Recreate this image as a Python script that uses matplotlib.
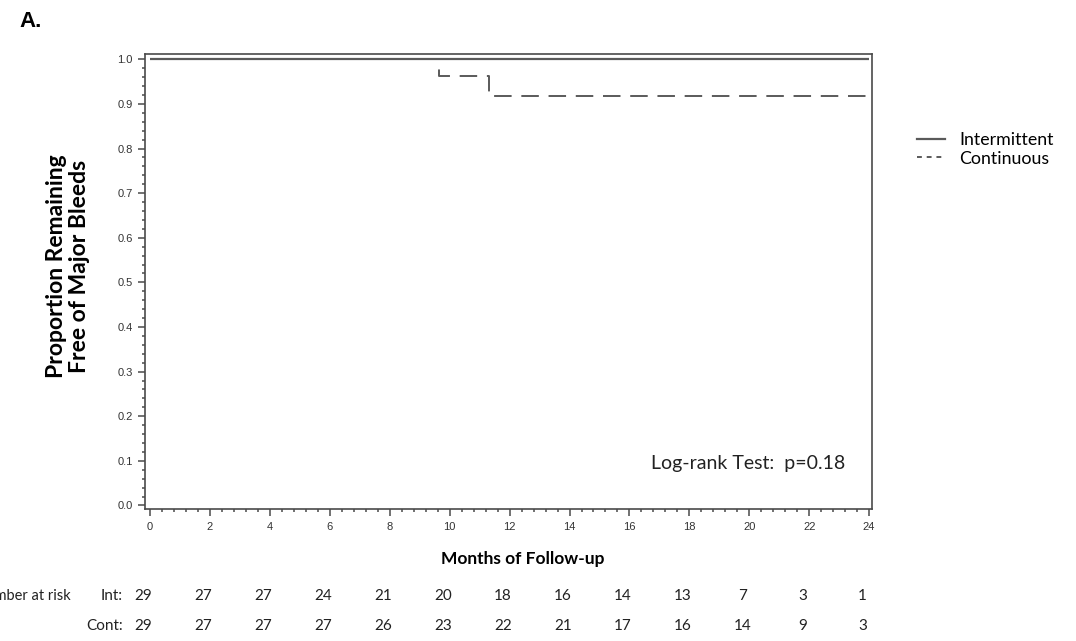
import numpy as np
import matplotlib.pyplot as plt
import matplotlib.transforms as mtransforms
from matplotlib.ticker import MultipleLocator, AutoMinorLocator
from matplotlib.lines import Line2D

# ---------- data ----------
months = np.arange(0, 25, 2)

# Kaplan-Meier step curves (time, survival)
int_times = [0, 24]
int_surv = [1.0, 1.0]
cont_times = [0, 9.65, 11.3, 24]
cont_surv = [1.0, 0.962, 0.918, 0.918]

risk_int = [29, 27, 27, 24, 21, 20, 18, 16, 14, 13, 7, 3, 1]
risk_cont = [29, 27, 27, 27, 26, 23, 22, 21, 17, 16, 14, 9, 3]

pvalue_text = "Log-rank Test:  p=0.18"

# ---------- style ----------
line_col = "#5a5a5a"
frame_col = "#4a4a4a"
txt_col = "#222222"
tick_font = "Liberation Sans"
text_font = "Lato"

fig = plt.figure(figsize=(10.76, 6.41), dpi=100)
ax = fig.add_axes([0.1348, 0.2059, 0.6757, 0.7099])

ax.step(int_times, int_surv, where="post", color=line_col, lw=1.6,
        solid_capstyle="butt")
ax.step(cont_times, cont_surv, where="post", color=line_col, lw=1.4,
        dashes=(9.0, 5.0))

ax.set_xlim(-0.17, 24.1)
ax.set_ylim(-0.008, 1.012)

ax.xaxis.set_major_locator(MultipleLocator(2))
ax.xaxis.set_minor_locator(AutoMinorLocator(5))
yt = np.arange(0, 1.01, 0.1)
ax.set_yticks(yt)
ax.set_yticklabels([f"{v:.1f}" for v in yt])
ax.yaxis.set_minor_locator(AutoMinorLocator(5))

for s in ax.spines.values():
    s.set_color(frame_col)
    s.set_linewidth(1.2)

ax.tick_params(which="major", direction="out", length=5, width=1.1,
               color=frame_col, labelsize=8, labelcolor="#333333", pad=4)
ax.tick_params(which="minor", direction="out", length=2.5, width=1.1,
               color=frame_col)
for lab in ax.get_xticklabels() + ax.get_yticklabels():
    lab.set_fontfamily(tick_font)

ax.set_xlabel("Months of Follow-up", fontsize=12.5, fontweight="bold",
              family=text_font)
ax.xaxis.set_label_coords(0.52, -0.092)
ax.set_ylabel("Proportion Remaining\nFree of Major Bleeds", fontsize=16.5,
              fontweight="bold", family=text_font, linespacing=1.12)
ax.yaxis.set_label_coords(-0.076, 0.533)

ax.text(23.2, 0.094, pvalue_text, ha="right", va="center", fontsize=14,
        family=text_font, color=txt_col)

# legend outside axes
handles = [
    Line2D([], [], color=line_col, lw=1.6),
    Line2D([], [], color=line_col, lw=1.4, dashes=(2.5, 2.5)),
]
fig.legend(handles, ["Intermittent", "Continuous"], loc="upper left",
           bbox_to_anchor=(0.837, 0.819), frameon=False, handlelength=1.6,
           handletextpad=0.8, labelspacing=0.15,
           prop={"family": text_font, "size": 12.8})

# panel label
fig.text(0.018, 0.966, "A.", fontsize=16, fontweight="bold",
         family="Liberation Sans", va="center", ha="left")

# number at risk table
row1_y = 1 - 596 / 641
row2_y = 1 - 626 / 641
fig.text(0.066, row1_y, "Number at risk", ha="right", va="center",
         fontsize=10.5, family=text_font, color=txt_col)
fig.text(0.114, row1_y, "Int:", ha="right", va="center",
         fontsize=11, family=text_font, color=txt_col)
fig.text(0.114, row2_y, "Cont:", ha="right", va="center",
         fontsize=11, family=text_font, color=txt_col)

blend = mtransforms.blended_transform_factory(ax.transData, fig.transFigure)
for m, a, b in zip(months, risk_int, risk_cont):
    ax.text(m - 0.22, row1_y, str(a), transform=blend, ha="center",
            va="center", fontsize=11, family=text_font, color=txt_col,
            clip_on=False)
    ax.text(m - 0.22, row2_y, str(b), transform=blend, ha="center",
            va="center", fontsize=11, family=text_font, color=txt_col,
            clip_on=False)

fig.savefig("out.png", dpi=100)
